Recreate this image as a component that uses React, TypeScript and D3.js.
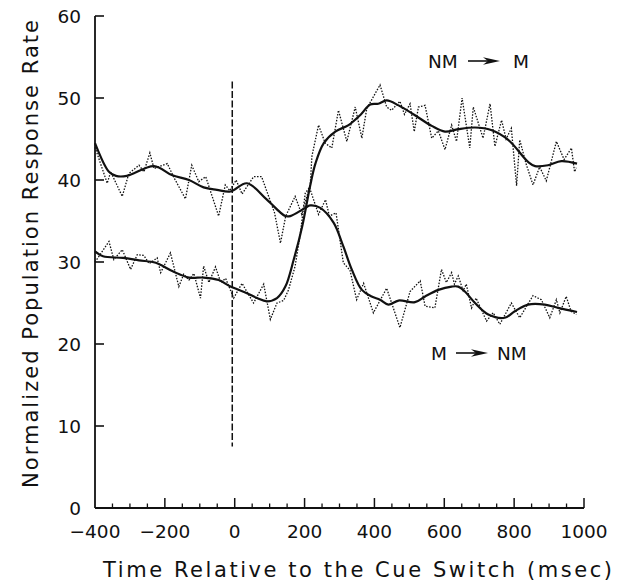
import React from "react";
import * as d3 from "d3";

// ---- Data ----
const xTickValues = [-400, -200, 0, 200, 400, 600, 800, 1000];
const xTickLabels = ["\u2212400", "\u2212200", "0", "200", "400", "600", "800", "1000"];
const yTickValues = [0, 10, 20, 30, 40, 50, 60];
const yTickLabels = ["0", "10", "20", "30", "40", "50", "60"];

// M -> NM (starts high, ends low)
const mnmSmoothT = [-400, -360, -340, -309, -231, -180, -131, -89, -51, -12, 35, 92, 145, 159, 202, 216, 245, 283, 311, 335, 364, 392, 416, 440, 469, 516, 545, 583, 621, 640, 659, 688, 726, 773, 802, 840, 888, 926, 980];
const mnmSmoothV = [44.5, 41.0, 40.5, 40.5, 41.7, 40.6, 40.0, 39.1, 38.8, 38.6, 39.6, 37.6, 35.6, 35.6, 36.6, 36.9, 36.6, 34.8, 31.9, 29.1, 26.6, 25.8, 25.4, 24.8, 25.3, 25.1, 25.8, 26.6, 27.0, 27.0, 26.4, 25.0, 23.6, 23.2, 24.0, 24.8, 24.8, 24.4, 23.9];
const mnmRawT = [-400, -365, -355, -322, -303, -274, -260, -243, -231, -193, -174, -141, -123, -103, -83, -46, -27, -14, 4, 21, 54, 77, 114, 131, 146, 173, 192, 214, 240, 260, 271, 290, 311, 330, 349, 369, 397, 435, 473, 502, 531, 545, 573, 592, 606, 621, 629, 640, 654, 663, 678, 691, 721, 740, 759, 792, 816, 854, 878, 902, 921, 931, 949, 963, 978];
const mnmRawV = [44.0, 39.6, 41.0, 38.0, 40.8, 41.8, 41.0, 43.3, 41.4, 42.0, 40.3, 37.7, 41.8, 39.8, 40.4, 35.6, 39.4, 38.7, 40.0, 38.3, 40.4, 40.4, 36.0, 32.3, 35.6, 38.0, 35.8, 39.1, 35.8, 37.6, 35.6, 36.0, 29.9, 29.0, 25.4, 27.4, 23.8, 26.8, 22.0, 26.4, 27.7, 24.6, 24.4, 29.1, 27.5, 28.7, 27.3, 28.3, 26.5, 27.3, 24.4, 25.6, 22.8, 23.8, 22.4, 25.0, 23.2, 25.9, 25.4, 23.2, 25.4, 23.8, 25.8, 24.0, 23.6];

// NM -> M (starts low, ends high)
const nmmSmoothT = [-400, -377, -320, -274, -226, -179, -131, -89, -46, -12, 35, 64, 92, 121, 145, 169, 193, 216, 231, 255, 288, 326, 359, 388, 411, 435, 469, 516, 564, 602, 640, 688, 734, 783, 840, 860, 897, 935, 980];
const nmmSmoothV = [31.3, 30.7, 30.5, 30.2, 29.9, 28.9, 28.1, 28.1, 27.8, 27.0, 26.2, 25.6, 25.2, 25.6, 27.0, 30.3, 34.3, 39.3, 42.0, 44.5, 45.9, 46.7, 47.9, 49.2, 49.3, 49.7, 49.1, 47.9, 46.6, 45.9, 46.2, 46.4, 46.1, 44.9, 42.2, 41.7, 41.8, 42.3, 42.0];
const nmmRawT = [-400, -360, -346, -322, -298, -279, -260, -245, -222, -212, -184, -160, -146, -131, -117, -98, -89, -74, -55, -40, -26, -3, 21, 40, 54, 83, 102, 121, 140, 154, 173, 188, 202, 216, 221, 240, 259, 278, 297, 321, 345, 364, 378, 416, 435, 449, 473, 486, 502, 514, 526, 545, 564, 583, 602, 621, 635, 651, 673, 683, 711, 731, 745, 764, 777, 792, 807, 816, 834, 854, 873, 892, 921, 943, 964, 973, 978];
const nmmRawV = [30.0, 32.5, 30.3, 31.5, 29.1, 30.9, 30.8, 29.8, 30.5, 28.7, 31.1, 27.0, 28.5, 27.8, 28.6, 25.6, 29.5, 27.5, 29.4, 27.5, 28.0, 25.6, 27.4, 26.0, 25.0, 27.3, 23.0, 25.0, 25.3, 26.6, 29.5, 33.5, 38.4, 39.2, 42.9, 46.7, 44.5, 43.9, 48.5, 44.7, 48.9, 45.1, 48.7, 51.6, 48.9, 48.5, 49.6, 48.0, 49.3, 45.9, 48.9, 49.1, 45.1, 46.0, 43.7, 46.7, 44.7, 50.0, 43.9, 48.9, 45.1, 49.3, 44.1, 47.3, 45.0, 46.3, 39.3, 44.9, 42.0, 39.4, 41.6, 39.9, 44.7, 42.5, 43.9, 41.0, 41.5];

const cueLineT = -7;
const cueLineRange = [7.5, 52];

const xTitle = "Time Relative to the Cue Switch (msec)";
const yTitle = "Normalized Population Response Rate";

export default function App() {
  const W = 622;
  const H = 581;
  const x = d3.scaleLinear().domain([-400, 1000]).range([95, 584]);
  const y = d3.scaleLinear().domain([0, 60]).range([508, 16]);

  const zip = (t: number[], v: number[]) => t.map((tt, i) => [tt, v[i]] as [number, number]);
  const smoothLine = d3
    .line<[number, number]>()
    .x((d) => x(d[0]))
    .y((d) => y(d[1]))
    .curve(d3.curveCatmullRom.alpha(0.5));
  const rawLine = d3
    .line<[number, number]>()
    .x((d) => x(d[0]))
    .y((d) => y(d[1]));

  const minorTicks = d3.range(-400, 1001, 50).filter((v) => v % 200 !== 0);
  const font = "'DejaVu Sans', sans-serif";
  const ink = "#111";

  const arrow = (x0: number, x1: number, yy: number) => (
    <g>
      <line x1={x0} y1={yy} x2={x1 - 10} y2={yy} stroke={ink} strokeWidth={1.6} />
      <path
        d={`M${x1},${yy} L${x1 - 17},${yy - 3.8} L${x1 - 12},${yy} L${x1 - 17},${yy + 3.8} Z`}
        fill={ink}
      />
    </g>
  );

  return (
    <svg
      width={W}
      height={H}
      viewBox={`0 0 ${W} ${H}`}
      style={{ position: "absolute", left: 0, top: 0, background: "#fff" }}
    >
      <rect x={0} y={0} width={W} height={H} fill="#fff" />
      {/* axes */}
      <line x1={x(-400)} y1={y(60)} x2={x(-400)} y2={y(0)} stroke={ink} strokeWidth={1.8} />
      <line x1={x(-400)} y1={y(0)} x2={x(1000)} y2={y(0)} stroke={ink} strokeWidth={1.8} />
      {yTickValues.map((v, i) => (
        <g key={"yt" + v}>
          {v !== 0 && (
            <line x1={x(-400)} x2={x(-400) + 9} y1={y(v)} y2={y(v)} stroke={ink} strokeWidth={1.6} />
          )}
          <text
            x={81}
            y={y(v)}
            dy="0.36em"
            textAnchor="end"
            fontFamily={font}
            fontSize={18.5}
            fill={ink}
          >
            {yTickLabels[i]}
          </text>
        </g>
      ))}
      {minorTicks.map((v) => (
        <line key={"mt" + v} x1={x(v)} x2={x(v)} y1={y(0)} y2={y(0) - 4.5} stroke={ink} strokeWidth={1.3} />
      ))}
      {xTickValues.map((v, i) => (
        <g key={"xt" + v}>
          {v !== -400 && (
            <line x1={x(v)} x2={x(v)} y1={y(0)} y2={y(0) - 10} stroke={ink} strokeWidth={1.5} />
          )}
          <text x={x(v)} y={538} textAnchor="middle" fontFamily={font} fontSize={18.5} fill={ink}>
            {xTickLabels[i]}
          </text>
        </g>
      ))}

      {/* cue switch line */}
      <line
        x1={x(cueLineT)}
        x2={x(cueLineT)}
        y1={y(cueLineRange[1])}
        y2={y(cueLineRange[0])}
        stroke={ink}
        strokeWidth={1.5}
        strokeDasharray="7 2.5"
      />

      {/* raw dotted series */}
      <path d={rawLine(zip(mnmRawT, mnmRawV)) || ""} fill="none" stroke={ink} strokeWidth={1.3} strokeDasharray="1.5 1.5" />
      <path d={rawLine(zip(nmmRawT, nmmRawV)) || ""} fill="none" stroke={ink} strokeWidth={1.3} strokeDasharray="1.5 1.5" />
      {/* smoothed series */}
      <path d={smoothLine(zip(mnmSmoothT, mnmSmoothV)) || ""} fill="none" stroke={ink} strokeWidth={2.2} strokeLinejoin="round" />
      <path d={smoothLine(zip(nmmSmoothT, nmmSmoothV)) || ""} fill="none" stroke={ink} strokeWidth={2.2} strokeLinejoin="round" />

      {/* labels */}
      <text x={428} y={68} fontFamily={font} fontSize={18.5} fill={ink}>NM</text>
      {arrow(468, 500, 61)}
      <text x={513} y={68} fontFamily={font} fontSize={18.5} fill={ink}>M</text>

      <text x={431} y={360} fontFamily={font} fontSize={18.5} fill={ink}>M</text>
      {arrow(456, 488, 353)}
      <text x={497} y={360} fontFamily={font} fontSize={18.5} fill={ink}>NM</text>

      {/* axis titles */}
      <text
        x={103}
        y={577}
        fontFamily={font}
        fontSize={21}
        fill={ink}
        textLength={509}
        lengthAdjust="spacing"
      >
        {xTitle}
      </text>
      <text
        transform="translate(38,254) rotate(-90)"
        textAnchor="middle"
        fontFamily={font}
        fontSize={21}
        fill={ink}
        textLength={468}
        lengthAdjust="spacing"
      >
        {yTitle}
      </text>
    </svg>
  );
}
